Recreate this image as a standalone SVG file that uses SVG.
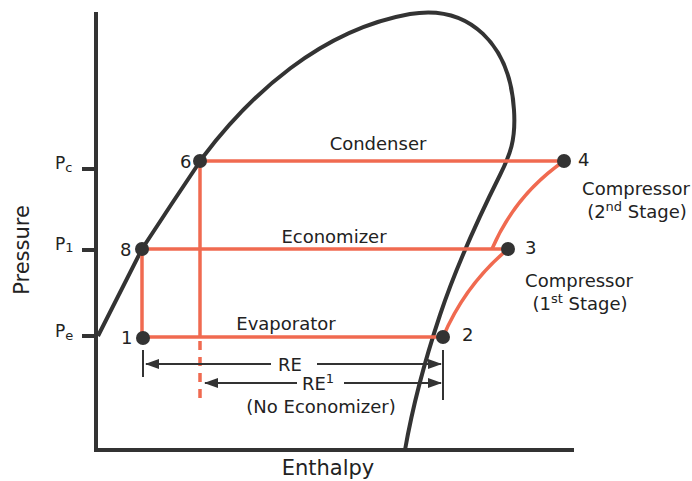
<svg xmlns="http://www.w3.org/2000/svg" width="692" height="481" viewBox="0 0 692 481">
<style>
text{font-family:"DejaVu Sans","Verdana",sans-serif;fill:#222;}
.lbl{font-size:18px;}
.ax{stroke:#333;stroke-width:4;fill:none;}
.red{stroke:#F06A50;stroke-width:3.5;fill:none;}
.dim{stroke:#333;stroke-width:2;fill:none;}
.dot{fill:#333;}
</style>
<defs>
<marker id="ah" viewBox="0 0 14 10" refX="13" refY="5" markerWidth="14" markerHeight="10" markerUnits="userSpaceOnUse" orient="auto-start-reverse">
<path d="M0,0 L14,5 L0,10 Z" fill="#333"/>
</marker>
</defs>
<rect width="692" height="481" fill="#fff"/>
<g id="axes">
<path class="ax" d="M96,12 V450 H574"/>
<path class="ax" d="M82,169 H96 M82,250 H96 M82,336 H96" stroke-width="3"/>
<text x="55" y="169" font-size="17">P<tspan font-size="13" dy="3">c</tspan></text>
<text x="55" y="250" font-size="17">P<tspan font-size="13" dy="2">1</tspan></text>
<text x="55" y="337" font-size="17">P<tspan font-size="13" dy="3">e</tspan></text>
<text transform="translate(29,250) rotate(-90)" text-anchor="middle" font-size="21">Pressure</text>
<text x="328" y="475" text-anchor="middle" font-size="21">Enthalpy</text>
</g>
<g id="dome">
<path class="ax" d="M98,336 L142,249 Q172,203 203,157 C250,95 320,30 410,14 C470,4 510,45 514,110 C516,140 510,155 500,175 C480,215 455,270 440,315 C425,360 412,410 405,450"/>
</g>
<g id="connectors">
<path class="red" d="M200,161 H564"/>
<path class="red" d="M142,249 H508"/>
<path class="red" d="M143,337 H443"/>
<path class="red" d="M142,249 V337"/>
<path class="red" d="M200,161 V337"/>
<path class="red" d="M200,341 V404" stroke-dasharray="9,7"/>
<path class="red" d="M492,249 Q515,195 564,161"/>
<path class="red" d="M443,337 Q465,285 508,249"/>
</g>
<g id="dimensions">
<path class="dim" d="M143,350 V377 M443,350 V400"/>
<path class="dim" d="M271,364 H146" marker-end="url(#ah)"/>
<path class="dim" d="M317,364 H441" marker-end="url(#ah)"/>
<path class="dim" d="M297,383 H205" marker-end="url(#ah)"/>
<path class="dim" d="M344,383 H441" marker-end="url(#ah)"/>
<text class="lbl" x="290" y="371" text-anchor="middle">RE</text>
<text class="lbl" x="318" y="390" text-anchor="middle">RE<tspan font-size="13" dy="-7">1</tspan></text>
<text class="lbl" x="321" y="413" text-anchor="middle">(No Economizer)</text>
</g>
<g id="condenser"><text class="lbl" x="378" y="150" text-anchor="middle">Condenser</text></g>
<g id="economizer"><text class="lbl" x="334" y="243" text-anchor="middle">Economizer</text></g>
<g id="evaporator"><text class="lbl" x="286" y="330" text-anchor="middle">Evaporator</text></g>
<g id="comp2"><text class="lbl" x="636" y="195" text-anchor="middle">Compressor</text><text class="lbl" x="637" y="218" text-anchor="middle">(2<tspan font-size="13" dy="-7">nd</tspan><tspan dy="7"> Stage)</tspan></text></g>
<g id="comp1"><text class="lbl" x="579" y="287" text-anchor="middle">Compressor</text><text class="lbl" x="580" y="310" text-anchor="middle">(1<tspan font-size="13" dy="-7">st</tspan><tspan dy="7"> Stage)</tspan></text></g>
<g id="p1"><circle class="dot" cx="143" cy="338" r="7"/><text class="lbl" x="121" y="344">1</text></g>
<g id="p2"><circle class="dot" cx="443" cy="337" r="7"/><text class="lbl" x="462" y="341">2</text></g>
<g id="p3"><circle class="dot" cx="508" cy="249" r="7"/><text class="lbl" x="525" y="254">3</text></g>
<g id="p4"><circle class="dot" cx="564" cy="161" r="7"/><text class="lbl" x="578" y="166">4</text></g>
<g id="p6"><circle class="dot" cx="200" cy="161" r="7"/><text class="lbl" x="180" y="168">6</text></g>
<g id="p8"><circle class="dot" cx="142" cy="249" r="7"/><text class="lbl" x="120" y="256">8</text></g>
</svg>
